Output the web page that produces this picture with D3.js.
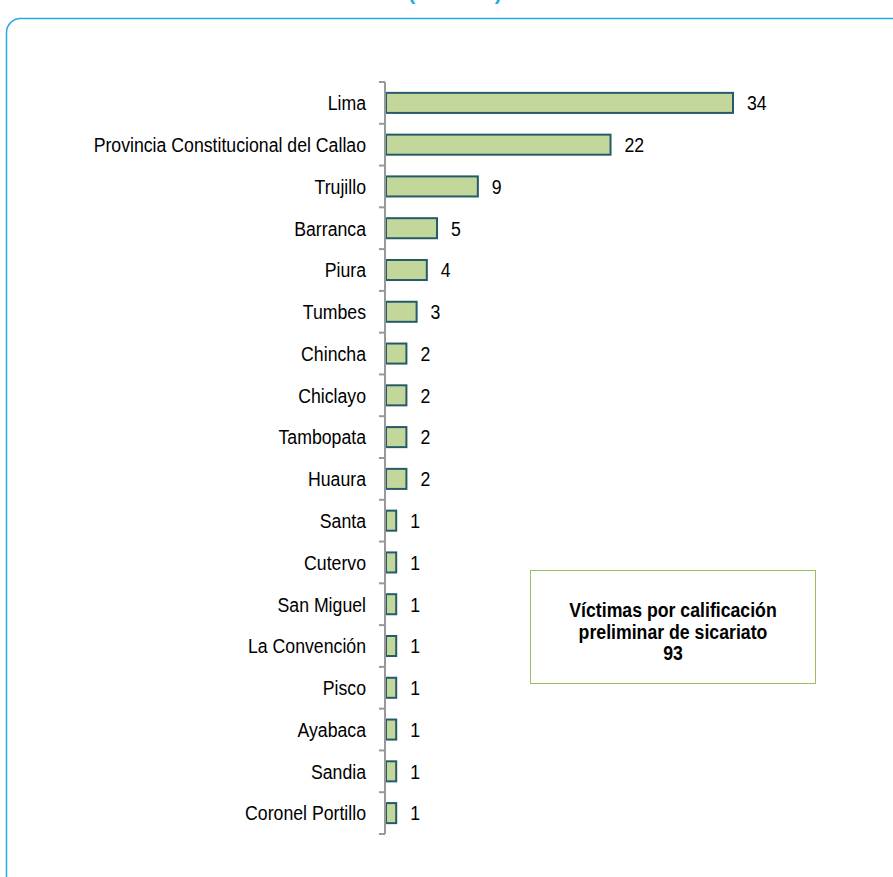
<!DOCTYPE html>
<html><head><meta charset="utf-8">
<script src="https://cdn.jsdelivr.net/npm/d3@7"></script>
<style>body{margin:0;background:#fff;}svg{display:block;}</style>
</head><body>
<script>
const categories = ["Lima","Provincia Constitucional del Callao","Trujillo","Barranca","Piura","Tumbes","Chincha","Chiclayo","Tambopata","Huaura","Santa","Cutervo","San Miguel","La Convención","Pisco","Ayabaca","Sandia","Coronel Portillo"];
const values = [34,22,9,5,4,3,2,2,2,2,1,1,1,1,1,1,1,1];
const boxLines = ["Víctimas por calificación","preliminar de sicariato","93"];

const W=893,H=877;
const svg=d3.select("body").append("svg").attr("width",W).attr("height",H);
const font="'Liberation Sans', Arial, sans-serif";
const SX=0.843; // narrow (condensed) text

// outer frame
svg.append("rect").attr("x",6.5).attr("y",18.5).attr("width",950).attr("height",950)
  .attr("rx",14).attr("fill","none").attr("stroke","#2aa9e0").attr("stroke-width",1.5);
svg.append("text").attr("x",455).attr("y",0).attr("text-anchor","middle")
  .attr("font-family",font).attr("font-size",21).attr("font-weight","bold").attr("fill","#2aa9e0").text("(Número)");

const x0=385;
const x=d3.scaleLinear().domain([0,34]).range([x0,x0+347]);
const y=d3.scaleBand().domain(categories).range([82,834]).paddingInner(0.52).paddingOuter(0.26);

// bars
svg.selectAll(".bar").data(categories).join("rect")
  .attr("x",x(0)+1).attr("y",d=>y(d)).attr("width",(d,i)=>x(values[i])-x(0))
  .attr("height",y.bandwidth()).attr("fill","#c4d79b").attr("stroke","#245b6b").attr("stroke-width",2);

// value labels
svg.selectAll(".val").data(categories).join("g")
  .attr("transform",(d,i)=>`translate(${x(values[i])+15},${y(d)+y.bandwidth()/2}) scale(${SX},1)`)
  .append("text").attr("dy","0.35em").attr("font-family",font).attr("font-size",21).attr("fill","#000")
  .text((d,i)=>values[i]);

// axis
svg.append("line").attr("x1",x0).attr("x2",x0).attr("y1",82).attr("y2",834).attr("stroke","#999").attr("stroke-width",2);
const tickYs=d3.range(categories.length+1).map(i=>82+i*(752/categories.length));
svg.selectAll(".tick").data(tickYs).join("line")
  .attr("x1",x0-6).attr("x2",x0).attr("y1",d=>d).attr("y2",d=>d).attr("stroke","#999").attr("stroke-width",2);
svg.selectAll(".cat").data(categories).join("g")
  .attr("transform",d=>`translate(366,${y(d)+y.bandwidth()/2}) scale(${SX},1)`)
  .append("text").attr("dy","0.35em")
  .attr("text-anchor","end").attr("font-family",font).attr("font-size",21).attr("fill","#000").text(d=>d);

// box
svg.append("rect").attr("x",530.5).attr("y",570.5).attr("width",285).attr("height",113)
  .attr("fill","#fff").attr("stroke","#9bc15a").attr("stroke-width",1);
svg.selectAll(".bx").data(boxLines).join("g")
  .attr("transform",(d,i)=>`translate(673,${617+i*21.5}) scale(${SX},1)`)
  .append("text").attr("text-anchor","middle")
  .attr("font-family",font).attr("font-size",21).attr("font-weight","bold").attr("fill","#000").text(d=>d);
</script>
</body></html>
